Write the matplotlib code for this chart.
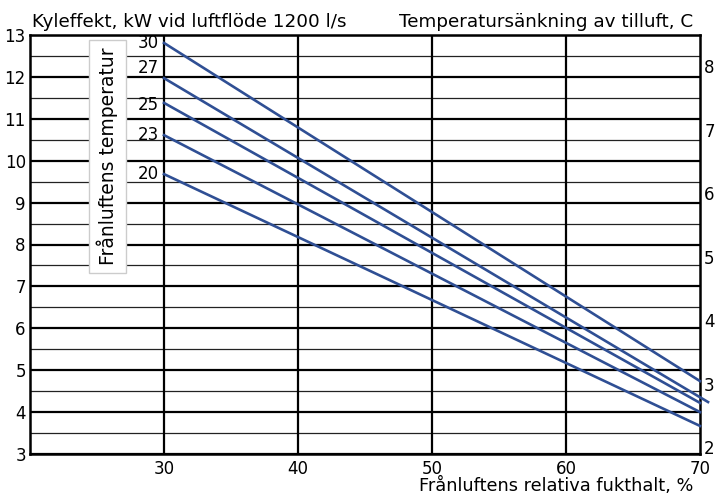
import matplotlib.pyplot as plt

# temperature curves: frånluftens temperatur vs cooling power
temps = [30, 27, 25, 23, 20]
x_start = [30, 30, 30, 30, 30]
x_end = [70, 70.6, 70, 70, 70]
kw_start = [12.81, 11.97, 11.38, 10.61, 9.68]
kw_end = [4.74, 4.24, 4.22, 4.00, 3.67]

x_ticks = [30, 40, 50, 60, 70]
left_ticks = [3, 4, 5, 6, 7, 8, 9, 10, 11, 12, 13]
right_ticks = [2, 3, 4, 5, 6, 7, 8]

line_color = '#2f4f94'
plt.rcParams['font.family'] = ['DejaVu Sans']

fig = plt.figure(figsize=(7.15, 4.95), dpi=100)
ax = fig.add_axes([30 / 715, 41 / 495, 670 / 715, 419 / 495])

ax.set_xlim(20, 70)
ax.set_ylim(3, 13)

# grid: thick at integers, thin at halves
for v in range(3, 14):
    ax.axhline(v, color='black', lw=1.6, zorder=1)
    if v < 13:
        ax.axhline(v + 0.5, color='#222222', lw=0.9, zorder=1)
for xv in x_ticks[:-1]:
    ax.axvline(xv, color='black', lw=1.6, zorder=1)

for s in ax.spines.values():
    s.set_linewidth(1.8)
    s.set_color('black')

for t, x0, x1, y0, y1 in zip(temps, x_start, x_end, kw_start, kw_end):
    ax.plot([x0, x1], [y0, y1], color=line_color, lw=1.9, zorder=3, clip_on=False)

# temperature labels to the left of the curves
nudge = {27: 0.25, 25: -0.05}
for t, y0 in zip(temps, kw_start):
    ax.text(29.6, y0 + nudge.get(t, 0), str(t), ha='right', va='center',
            fontsize=12, zorder=4)

# legend box with rotated title
ax.text(25.78, 10.1, 'Frånluftens temperatur', rotation=90, ha='center', va='center',
        fontsize=13.5, zorder=5,
        bbox=dict(boxstyle='square,pad=0.4', fc='white', ec='#cccccc', lw=1))

ax.set_xticks(x_ticks)
ax.set_xticklabels([str(v) for v in x_ticks], fontsize=12)
ax.set_yticks(left_ticks)
ax.set_yticklabels([str(v) for v in left_ticks], fontsize=12)
ax.tick_params(axis='both', length=0)
ax.tick_params(axis='x', pad=4)
ax.tick_params(axis='y', pad=3)

ax2 = ax.twinx()
ax2.set_ylim(1.89, 8.49)
ax2.set_yticks(right_ticks)
ax2.set_yticklabels([str(v) for v in right_ticks], fontsize=12)
ax2.tick_params(axis='y', length=0, pad=3)
for s in ax2.spines.values():
    s.set_visible(False)

fig.text(32 / 715, 1 - 22 / 495, 'Kyleffekt, kW vid luftflöde 1200 l/s',
         ha='left', va='center', fontsize=13.2)
fig.text(693 / 715, 1 - 22 / 495, 'Temperatursänkning av tilluft, C',
         ha='right', va='center', fontsize=13.2)
fig.text(693 / 715, 1 - 486 / 495, 'Frånluftens relativa fukthalt, %',
         ha='right', va='center', fontsize=12.8)

plt.savefig('out.png', dpi=100)
plt.close()
